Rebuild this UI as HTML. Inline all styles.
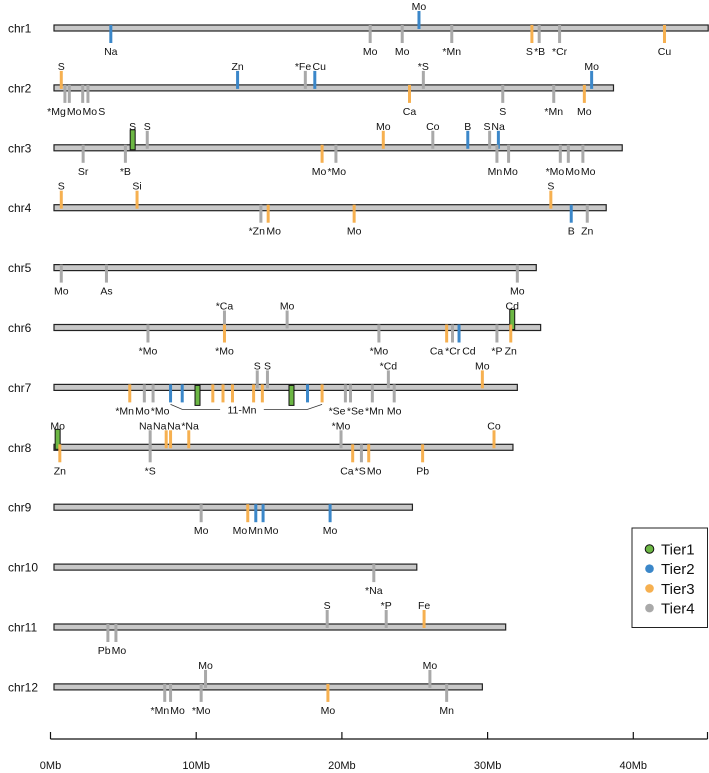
<!DOCTYPE html>
<html><head><meta charset="utf-8">
<style>
html,body{margin:0;padding:0;background:#fff;}
svg{display:block;font-family:"Liberation Sans",Arial,sans-serif;}
</style></head>
<body>
<svg id="chart" width="709" height="773" viewBox="0 0 709 773" xmlns="http://www.w3.org/2000/svg">
<g id="bars"></g>
<g id="marks"></g>
<g id="axis"></g>
<g id="legend">
  <rect x="632" y="528" width="75.5" height="99.5" fill="#fff" stroke="#222" stroke-width="1"/>
</g>
</svg>
<script>
const chromNames = ["chr1","chr2","chr3","chr4","chr5","chr6","chr7","chr8","chr9","chr10","chr11","chr12"];
const chromLengths = [44.9,38.4,39.0,37.9,33.1,33.4,31.8,31.5,24.6,24.9,31.0,29.4];
const tierNames = ["Tier1","Tier2","Tier3","Tier4"];
const axisTicks = [0,10,20,30,40];
const axisTickLabels = ["0Mb","10Mb","20Mb","30Mb","40Mb"];
const markChr = [
0,0,0,0,0,0,0,0,0,
1,1,1,1,1,1,1,1,1,1,1,1,1,1,
2,2,2,2,2,2,2,2,2,2,2,2,2,2,2,2,
3,3,3,3,3,3,3,3,
4,4,4,
5,5,5,5,5,5,5,5,5,5,5,
6,6,6,6,6,6,6,6,6,6,6,6,6,6,6,6,6,6,6,6,6,6,
7,7,7,7,7,7,7,7,7,7,7,7,7,
8,8,8,8,8,
9,
10,10,10,10,10,
11,11,11,11,11,11,11];
const markPos = [
3.9,21.7,23.9,25.05,27.3,32.8,33.3,34.7,41.9,
0.5,0.75,1.05,1.97,2.33,12.6,17.25,17.9,24.4,25.35,30.8,34.3,36.4,36.9,
2.0,4.9,5.4,6.4,18.4,19.35,22.6,26.0,28.4,29.9,30.5,30.4,31.2,34.75,35.3,36.3,
0.5,5.7,14.2,14.7,20.6,34.1,35.5,36.6,
0.5,3.6,31.8,
6.45,11.7,11.7,16.0,22.3,26.95,27.35,27.8,30.4,31.45,31.35,
5.2,6.2,6.8,8.0,8.8,9.85,10.9,11.6,12.25,13.7,13.95,14.3,14.65,16.3,17.4,18.4,20.0,20.35,21.85,22.95,23.35,29.4,
0.25,0.4,6.6,6.6,7.7,8.0,9.25,19.7,20.5,21.1,21.6,25.3,30.2,
10.1,13.3,13.85,14.35,18.95,
21.95,
3.7,4.25,18.75,22.8,25.4,
7.6,8.0,10.1,10.4,18.8,25.8,26.95];
const markTier = [
2,4,4,2,4,3,4,4,3,
3,4,4,4,4,2,4,2,3,4,4,4,3,2,
4,4,1,4,3,4,3,4,2,4,2,4,4,4,4,4,
3,3,4,3,3,3,2,4,
4,4,4,
4,4,3,4,4,3,4,2,4,1,3,
3,4,4,2,2,1,3,3,3,3,4,3,4,1,2,3,4,4,4,4,4,3,
1,3,4,4,3,3,3,4,3,4,3,3,3,
4,3,2,2,2,
4,
4,4,4,4,3,
4,4,4,4,3,4,4];
const markSide = [
-1,-1,-1,1,-1,-1,-1,-1,-1,
1,-1,-1,-1,-1,1,1,1,-1,1,-1,-1,-1,1,
-1,-1,1,1,-1,-1,1,1,1,1,1,-1,-1,-1,-1,-1,
1,1,-1,-1,-1,1,-1,-1,
-1,-1,-1,
-1,1,-1,1,-1,-1,-1,-1,-1,1,-1,
-1,-1,-1,-1,-1,-1,-1,-1,-1,-1,1,-1,1,-1,-1,-1,-1,-1,-1,1,-1,1,
1,-1,1,-1,1,1,1,1,-1,-1,-1,-1,1,
-1,-1,-1,-1,-1,
-1,
-1,-1,1,1,1,
-1,-1,-1,1,-1,1,-1];
const markLabel = [
"Na","Mo","Mo","Mo","*Mn","S","*B","*Cr","Cu",
"S","*Mg","Mo","Mo","S","Zn","*Fe","Cu","Ca","*S","S","*Mn","Mo","Mo",
"Sr","*B","S","S","Mo","*Mo","Mo","Co","B","S","Na","Mn","Mo","*Mo","Mo","Mo",
"S","Si","*Zn","Mo","Mo","S","B","Zn",
"Mo","As","Mo",
"*Mo","*Ca","*Mo","Mo","*Mo","Ca","*Cr","Cd","*P","Cd","Zn",
"*Mn","Mo","*Mo","","","","","","","","S","","S","","","","*Se","*Se","*Mn","*Cd","Mo","Mo",
"Mo","Zn","Na","*S","Na","Na","*Na","*Mo","Ca","*S","Mo","Pb","Co",
"Mo","Mo","Mn","Mo","Mo",
"*Na",
"Pb","Mo","S","*P","Fe",
"*Mn","Mo","*Mo","Mo","Mo","Mo","Mn"];

const NS="http://www.w3.org/2000/svg";
const tierColors={1:"#6cb744",2:"#3b87c9",3:"#f6b050",4:"#a9a9a9"};
const PX=14.57, X0=54, AX0=50.5;
function xs(mb){return X0+mb*PX;}
function xa(mb){return AX0+mb*PX;}
function yc(i){return 28+i*59.9;}
function el(tag,attrs,parent){const e=document.createElementNS(NS,tag);for(const k in attrs)e.setAttribute(k,attrs[k]);parent.appendChild(e);return e;}
function lw(s){let w=0;for(const ch of s){w+= ch==='*'?4.2 : ch==='M'?8.7 : (ch>='A'&&ch<='Z')?7.2 : 5.9;}return w;}

const gb=document.getElementById('bars');
chromNames.forEach((n,i)=>{
  const c=yc(i);
  const t=el('text',{x:8,y:c+4.5,'font-size':12,fill:'#111'},gb);
  t.textContent=n;
  
  
  const r=el('rect',{x:X0,y:c-3,width:chromLengths[i]*PX,height:6,fill:'#c8c8c8',stroke:'#222','stroke-width':1.2},gb);
  
  
});

const gm=document.getElementById('marks');
const labelItems=[];
for(let k=0;k<markPos.length;k++){
  const c=yc(markChr[k]), x=xs(markPos[k]), side=markSide[k], tier=markTier[k];
  let m;
  if(tier===1){
    const y0= side>0 ? c-18 : c-2;
    m=el('rect',{x:x-2.5,y:y0,width:5,height:20,fill:tierColors[1],stroke:'#111','stroke-width':1},gm);
  } else {
    const y0= side>0 ? c-17 : c-3, y1= side>0 ? c+1 : c+15;
    m=el('line',{x1:x,x2:x,y1:y0,y2:y1,stroke:tierColors[tier],'stroke-width':3},gm);
  }
  
  
  if(markLabel[k]) labelItems.push({chr:markChr[k],side:side,x:x,w:lw(markLabel[k])+1,text:markLabel[k]});
}
// repel overlapping labels within each chromosome side
const groups={};
labelItems.forEach(l=>{const key=l.chr+'_'+l.side;(groups[key]=groups[key]||[]).push(l);});
Object.values(groups).forEach(g=>{
  g.sort((a,b)=>a.x-b.x);
  let clusters=g.map(l=>({items:[l]}));
  function layout(cl){
    const total=cl.items.reduce((s,l)=>s+l.w,0);
    const mean=cl.items.reduce((s,l)=>s+l.x,0)/cl.items.length;
    cl.left=mean-total/2; cl.right=cl.left+total;
  }
  clusters.forEach(layout);
  let merged=true;
  while(merged){
    merged=false;
    for(let i=0;i<clusters.length-1;i++){
      if(clusters[i].right>clusters[i+1].left){
        clusters[i].items=clusters[i].items.concat(clusters[i+1].items);
        clusters.splice(i+1,1);layout(clusters[i]);merged=true;break;
      }
    }
  }
  clusters.forEach(cl=>{let p=cl.left;cl.items.forEach(l=>{l.cx=p+l.w/2;p+=l.w;});});
});
labelItems.forEach(l=>{
  const c=yc(l.chr);
  const t=el('text',{x:l.cx,y: l.side>0 ? c-18 : c+27,'font-size':10.5,'text-anchor':'middle',fill:'#111'},gm);
  t.textContent=l.text;
  
  
});
(function(){
  const c=yc(6);
  const p=el('polyline',{points:`${xs(8.0)},${c+17} ${xs(8.8)},${c+22} ${xs(11.4)},${c+22}`,fill:'none',stroke:'#333','stroke-width':0.8},gm);
  
  
  const p2=el('polyline',{points:`${xs(14.4)},${c+22} ${xs(17.4)},${c+22} ${xs(18.4)},${c+17}`,fill:'none',stroke:'#333','stroke-width':0.8},gm);
  
  
  const t=el('text',{x:xs(12.9),y:c+26,'font-size':10.5,'text-anchor':'middle',fill:'#111'},gm);
  t.textContent='11-Mn';
  
  
})();

const ga=document.getElementById('axis');
const al=el('line',{x1:AX0,x2:707.5,y1:739,y2:739,stroke:'#111','stroke-width':1.2},ga);


const et=el('line',{x1:707.5,x2:707.5,y1:739,y2:732,stroke:'#111','stroke-width':1.2},ga);


axisTicks.forEach((v,i)=>{
  const x=xa(v);
  const tl=el('line',{x1:x,x2:x,y1:732,y2:739,stroke:'#111','stroke-width':1.2},ga);
  
  
  const t=el('text',{x:x,y:769,'font-size':11,'text-anchor':'middle',fill:'#111'},ga);
  t.textContent=axisTickLabels[i];
  
  
});

const gl=document.getElementById('legend');
tierNames.forEach((n,i)=>{
  const y=549+i*19.7;
  const c=el('circle',{cx:649.5,cy:y,r:4.3,fill:tierColors[i+1],stroke:i===0?'#111':'none','stroke-width':1},gl);
  
  
  const t=el('text',{x:661,y:y+5.5,'font-size':15,fill:'#111'},gl);
  t.textContent=n;
  
  
});
</script>
</body></html>
